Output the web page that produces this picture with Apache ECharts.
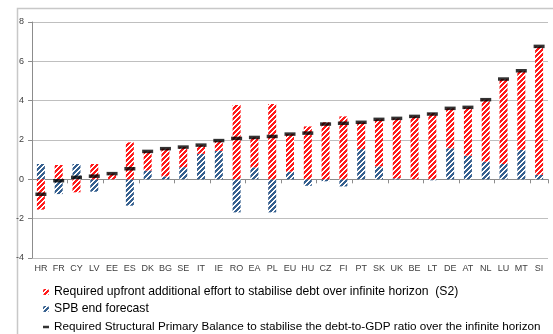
<!DOCTYPE html>
<html>
<head>
<meta charset="utf-8">
<script src="https://cdn.jsdelivr.net/npm/echarts@6/dist/echarts.min.js"></script>
<style>
html,body{margin:0;padding:0;background:#fff;}
#chart{width:553px;height:334px;}
</style>
</head>
<body>
<div id="chart"></div>
<script>
const categories = ['HR','FR','CY','LV','EE','ES','DK','BG','SE','IT','IE','RO','EA','PL','EU','HU','CZ','FI','PT','SK','UK','BE','LT','DE','AT','NL','LU','MT','SI'];
const s2Effort = [-1.54,0.73,-0.66,0.78,0.30,1.88,0.97,1.41,1.02,0.44,0.50,3.78,1.52,3.83,1.91,2.69,2.90,3.20,1.36,2.39,3.05,3.20,3.37,2.03,2.46,3.15,4.32,4.02,6.53];
const spbForecast = [0.78,-0.75,0.78,-0.63,0.0,-1.34,0.45,0.15,0.62,1.30,1.45,-1.68,0.61,-1.68,0.39,-0.33,-0.10,-0.36,1.54,0.66,0.05,0.0,-0.05,1.58,1.20,0.90,0.78,1.50,0.23];
const requiredSPB = [-0.76,-0.07,0.10,0.16,0.29,0.54,1.42,1.56,1.64,1.74,1.97,2.08,2.13,2.18,2.30,2.35,2.81,2.85,2.90,3.05,3.10,3.20,3.32,3.61,3.66,4.05,5.10,5.52,6.76];
const yTicks = [-4,-2,0,2,4,6,8];

const nameS2 = 'Required upfront additional effort to stabilise debt over infinite horizon  (S2)';
const nameSPB = 'SPB end forecast';
const nameReq = 'Required Structural Primary Balance to stabilise the debt-to-GDP ratio over the infinite horizon';

function hatch(color){
  const n = 5;
  const c = document.createElement('canvas');
  c.width = n; c.height = n;
  const ctx = c.getContext('2d');
  ctx.fillStyle = '#ffffff';
  ctx.fillRect(0,0,n,n);
  ctx.fillStyle = color;
  for (let x=0;x<n;x++){
    for (let y=0;y<n;y++){
      if (((x+y)%n) < 3) ctx.fillRect(x,y,1,1);
    }
  }
  return {image: c, repeat: 'repeat'};
}

const redPat = hatch('#ff1a1a');
const bluePat = hatch('#36608f');

const chart = echarts.init(document.getElementById('chart'), null, {renderer:'canvas'});
const legendFont = 'Liberation Sans, Arial, sans-serif';
const legendBase = {
  orient: 'vertical', left: 38, itemWidth: 6, itemHeight: 6, selectedMode: false,
  textStyle: {fontFamily: legendFont, fontSize: 12.2, color: '#000'}
};
chart.setOption({
  animation: false,
  backgroundColor: '#fff',
  graphic: [{
    type: 'rect', left: 15, top: 6, shape: {x: 0, y: 0, width: 600, height: 400},
    style: {fill: 'none', stroke: '#c8c8c8', lineWidth: 1.5}, silent: true, z: -10
  }],
  grid: {left: 32, right: 5, top: 22, bottom: 76},
  legend: [
    Object.assign({}, legendBase, {top: 281, data: [{name: nameS2}]}),
    Object.assign({}, legendBase, {top: 298, data: [{name: nameSPB}]}),
    Object.assign({}, legendBase, {top: 316, itemHeight: 2.5,
      textStyle: {fontFamily: legendFont, fontSize: 11.7, color: '#000'},
      data: [{name: nameReq, icon: 'rect'}]})
  ],
  xAxis: [{
    type: 'category', data: categories,
    axisLine: {onZero: true, lineStyle: {color: '#8c8c8c', width: 1}},
    axisTick: {show: true, length: 4, lineStyle: {color: '#8c8c8c'}},
    axisLabel: {show: false}
  }, {
    type: 'category', data: categories, position: 'bottom',
    axisLine: {show: false, onZero: false}, axisTick: {show: false},
    axisLabel: {show: true, interval: 0, margin: 6, fontSize: 9, color: '#404040', fontFamily: 'Liberation Sans, Arial, sans-serif'}
  }],
  yAxis: {
    type: 'value', min: yTicks[0], max: yTicks[yTicks.length-1], interval: 2,
    axisLine: {show: true, lineStyle: {color: '#8c8c8c'}},
    axisTick: {show: true, length: 4, lineStyle: {color: '#8c8c8c'}},
    axisLabel: {fontSize: 9, color: '#404040', margin: 8, fontFamily: 'Liberation Sans, Arial, sans-serif'},
    splitLine: {show: true, lineStyle: {color: '#bfbfbf', width: 1}}
  },
  series: [{
    name: nameSPB, type: 'bar', stack: 'tot', data: spbForecast, barWidth: 8,
    itemStyle: {color: bluePat}
  }, {
    name: nameS2, type: 'bar', stack: 'tot', data: s2Effort, barWidth: 8,
    itemStyle: {color: redPat}
  }, {
    name: nameReq, type: 'scatter', data: requiredSPB, symbol: 'rect', symbolSize: [11, 3.5],
    itemStyle: {color: '#000'}, z: 10
  }]
});
</script>
</body>
</html>
